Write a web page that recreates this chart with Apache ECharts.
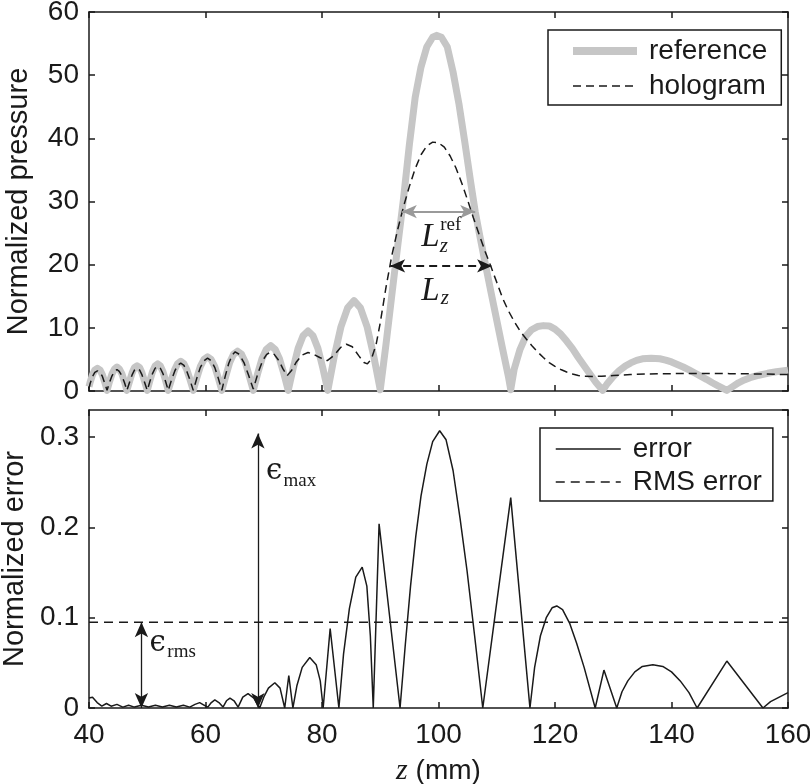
<!DOCTYPE html>
<html>
<head>
<meta charset="utf-8">
<script src="https://cdn.jsdelivr.net/npm/echarts@6/dist/echarts.min.js"></script>
<style>
html, body { margin: 0; padding: 0; background: #fff; }
#chart { width: 810px; height: 784px; }
</style>
</head>
<body>
<div id="chart"></div>
<script>
// axis ticks
const zTicks = [40, 60, 80, 100, 120, 140, 160]
const pressureTicks = [0, 10, 20, 30, 40, 50, 60]
const errorTicks = [0, 0.1, 0.2, 0.3]
const errorTop = 0.33

// normalized pressure along z, [z (mm), value]
const reference = [
  [40, 0.7], [40.2, 1.4], [40.6, 2.55], [41, 3.3], [41.45, 3.6], [41.9, 3.3], [42.3, 2.55], [42.7, 1.4], [43.1, 0.1],
  [43.5, 1.45], [43.95, 2.7], [44.4, 3.5], [44.8, 3.8], [45.2, 3.5], [45.65, 2.7], [46.1, 1.45], [46.5, 0.1],
  [46.95, 1.5], [47.4, 2.85], [47.8, 3.7], [48.25, 4.0], [48.7, 3.7], [49.1, 2.85], [49.55, 1.5], [50, 0.1],
  [50.45, 1.65], [50.9, 3.05], [51.35, 3.95], [51.8, 4.3], [52.25, 3.95], [52.7, 3.05], [53.15, 1.65], [53.6, 0.1],
  [54.15, 1.8], [54.7, 3.35], [55.2, 4.3], [55.75, 4.7], [56.3, 4.3], [56.8, 3.35], [57.35, 1.8], [57.9, 0.1],
  [58.5, 2.05], [59.1, 3.85], [59.75, 5.0], [60.35, 5.4], [60.95, 5.0], [61.6, 3.85], [62.2, 2.05], [62.8, 0.1],
  [63.5, 2.4], [64.15, 4.5], [64.8, 5.8], [65.5, 6.3], [66.2, 5.8], [66.85, 4.5], [67.5, 2.4], [68.2, 0.1],
  [68.95, 2.75], [69.7, 5.1], [70.45, 6.6], [71.2, 7.2], [71.95, 6.6], [72.7, 5.1], [73.45, 2.75], [74.2, 0.1],
  [75.05, 3.6], [75.9, 6.75], [76.75, 8.75], [77.6, 9.5], [78.45, 8.75], [79.3, 6.75], [80.15, 3.6], [81, 0.1],
  [82.1, 5.45], [83.25, 10.15], [84.4, 13.15], [85.5, 14.3], [86.6, 13.15], [87.75, 10.15], [88.9, 5.45], [90, 0.2],
  [91, 7.5], [92, 15.3], [93, 23], [94, 30.5], [95, 39], [96, 46.5], [97, 51.3], [98, 54.5], [99, 56], [99.7, 56.3],
  [100.5, 56], [101.5, 54.5], [102.5, 50.5], [103.5, 45.5], [104.5, 39.5], [105.5, 33.2], [106.3, 28.4], [107, 25],
  [108, 20.3], [109, 15.7], [110, 11.2], [111, 6.7], [112, 2.3], [112.4, 0.2],
  [113, 3.5], [114, 6.6], [115, 8.7], [116, 9.7], [117, 10.2], [118, 10.35], [119, 10.3], [120, 9.8], [121, 9.0],
  [122, 7.9], [123, 6.7], [124, 5.3], [125, 4.0], [126, 2.7], [127, 1.4], [128.2, 0.1],
  [129, 1.2], [130, 2.3], [131, 3.2], [132, 3.9], [133, 4.45], [134, 4.85], [135, 5.1], [136.5, 5.2], [138, 5.1],
  [139, 4.9], [140, 4.6], [141, 4.2], [142, 3.8], [143, 3.35], [144, 2.85], [145, 2.35], [146, 1.85], [147, 1.3],
  [148, 0.8], [149.5, 0.1],
  [150.5, 0.7], [151.5, 1.3], [152.5, 1.75], [153.5, 2.1], [155, 2.5], [156.5, 2.8], [158, 3.05], [160, 3.3]
]

const hologram = [
  [40, 0.4], [40.2, 1.2], [40.6, 2.3], [41, 2.95], [41.45, 3.2], [41.9, 2.95], [42.3, 2.3], [42.7, 1.2], [43.1, 0.1],
  [43.5, 1.3], [43.95, 2.4], [44.4, 3.1], [44.8, 3.4], [45.2, 3.1], [45.65, 2.4], [46.1, 1.3], [46.5, 0.1],
  [46.95, 1.35], [47.4, 2.55], [47.8, 3.3], [48.25, 3.6], [48.7, 3.3], [49.1, 2.55], [49.55, 1.35], [50, 0.1],
  [50.45, 1.5], [50.9, 2.75], [51.35, 3.6], [51.8, 3.9], [52.25, 3.6], [52.7, 2.75], [53.15, 1.5], [53.6, 0.1],
  [54.15, 1.7], [54.7, 3.1], [55.2, 4.05], [55.75, 4.4], [56.3, 4.05], [56.8, 3.1], [57.35, 1.7], [57.9, 0.1],
  [58.5, 2.0], [59.1, 3.7], [59.75, 4.8], [60.35, 5.2], [60.95, 4.8], [61.6, 3.7], [62.2, 2.0], [62.8, 0.1],
  [63.4, 2.4], [64, 4.4], [64.6, 5.7], [65.1, 6.2], [65.8, 5.8], [66.6, 4.5], [67.4, 2.5], [68.2, 0.3],
  [69, 2.8], [69.8, 4.8], [70.5, 5.8], [71.1, 6.1], [71.8, 5.8], [72.6, 4.8], [73.3, 3.5], [74, 2.4],
  [74.8, 3.3], [75.6, 4.6], [76.6, 5.7], [77.6, 6.1], [78.6, 5.8], [79.6, 5.3], [80.9, 4.8],
  [82, 5.6], [83.2, 6.9], [84.2, 7.4], [85.2, 7.0], [86.3, 5.6], [87.2, 4.5], [87.8, 4.3],
  [88.5, 5.1], [89.3, 7.4], [90, 10.8], [91, 16.5], [92, 21.5], [93, 25.6], [94, 29.2], [95, 32.4], [96, 35.2],
  [97, 37.4], [98, 38.8], [99, 39.4], [100, 39.3], [101, 38.6], [102, 37.2], [103, 35.3], [104, 32.9], [105, 30.2],
  [106, 27.4], [107, 24.7], [108, 22.1], [109, 19.7], [110, 17.2], [111, 14.7], [112, 12.7], [113, 11], [114, 9.5],
  [115, 8.3], [116, 7.2], [117, 6.2], [118, 5.3], [119, 4.5], [120, 3.9], [121, 3.4], [122, 3], [123, 2.7],
  [124, 2.45], [125, 2.35], [126.5, 2.3], [128, 2.35], [130, 2.45], [133, 2.6], [136, 2.7], [140, 2.75],
  [145, 2.78], [150, 2.75], [155, 2.7], [160, 2.6]
]

// normalized error along z
const error = [
  [40, 0.011], [40.6, 0.012], [41.4, 0.006], [42.2, 0.002], [43, 0.005], [43.8, 0.002], [44.8, 0.004], [45.8, 0.001],
  [46.8, 0.003], [47.8, 0.001], [49, 0.003], [50.2, 0.001], [51.4, 0.003], [52.6, 0.001], [53.8, 0.003], [55, 0.001],
  [56.2, 0.003], [57.3, 0.001], [58.2, 0.004], [59, 0.006], [59.8, 0.003], [60.4, 0.001], [61, 0.006], [61.6, 0.009],
  [62.3, 0.006], [63, 0.001], [63.6, 0.008], [64.2, 0.011], [64.9, 0.008], [65.6, 0.001], [66.4, 0.012], [67.3, 0.016],
  [68.3, 0.011], [69.3, 0],
  [70, 0.012], [70.8, 0.022], [71.9, 0.028], [72.8, 0.022], [73.6, 0], [74.3, 0.036], [75, 0],
  [75.7, 0.025], [76.6, 0.045], [77.9, 0.056], [79, 0.048], [79.7, 0.03], [80.2, 0], [81.4, 0.088], [82.9, 0],
  [83.7, 0.06], [84.7, 0.11], [85.8, 0.145], [86.9, 0.156], [87.7, 0.135], [88.3, 0.08], [88.8, 0], [89.8, 0.204],
  [93.4, 0], [94.3, 0.07], [95.2, 0.135], [96.1, 0.19], [97, 0.235], [98, 0.27], [99, 0.295], [100.2, 0.307],
  [101.3, 0.297], [102.5, 0.263], [103.7, 0.21], [104.9, 0.152], [106.2, 0.08], [107.6, 0],
  [110, 0.117], [112.4, 0.233], [115.7, 0],
  [116.5, 0.045], [117.5, 0.08], [118.5, 0.1], [119.5, 0.111], [120.3, 0.113], [121.3, 0.109], [122.5, 0.094],
  [123.7, 0.072], [125, 0.045], [126.9, 0], [128.4, 0.042], [130.6, 0],
  [131.5, 0.018], [132.5, 0.03], [133.7, 0.04], [135, 0.046], [136.8, 0.048], [138.5, 0.046], [140, 0.04],
  [141.5, 0.03], [143, 0.017], [144.4, 0], [149.5, 0.052], [155.7, 0], [157, 0.007], [158.5, 0.012], [160, 0.017]
]
const rmsError = 0.095

// widths and error bars: [from, to] in data units
const lzRef = [[93.7, 28.4], [106.3, 28.4]]
const lz = [[91.7, 19.8], [109.2, 19.8]]
const epsRms = [[49, 0], [49, rmsError]]
const epsMax = [[69, 0], [69, 0.304]]

const ink = '#1a1a1a'
const sans = '"Liberation Sans", Arial, sans-serif'
const serif = '"Liberation Serif", "DejaVu Serif", serif'
const mathSerif = '"DejaVu Serif", "Liberation Serif", serif'

const frame = { show: true, onZero: false, lineStyle: { color: ink, width: 1.5 } }
const ticks = { show: true, inside: true, length: 6, lineStyle: { color: ink, width: 1.5 } }

function zAxis (gridIndex, position, labels) {
  const axis = {
    type: 'value',
    gridIndex,
    position,
    min: zTicks[0],
    max: zTicks[zTicks.length - 1],
    interval: zTicks[1] - zTicks[0],
    axisLine: frame,
    axisTick: ticks,
    splitLine: { show: false },
    axisLabel: { show: labels, fontSize: 28, color: ink, margin: 13 }
  }
  if (labels) {
    axis.name = '{i|z} (mm)'
    axis.nameLocation = 'middle'
    axis.nameGap = 48
    axis.nameTextStyle = {
      fontSize: 28,
      color: ink,
      rich: { i: { fontFamily: serif, fontStyle: 'italic', fontSize: 30, color: ink } }
    }
  }
  return axis
}

function valueAxis (gridIndex, position, min, max, interval, name) {
  return {
    type: 'value',
    gridIndex,
    position,
    min,
    max,
    interval,
    axisLine: frame,
    axisTick: ticks,
    splitLine: { show: false },
    axisLabel: { show: !!name, fontSize: 28, color: ink, margin: 10, showMaxLabel: max === pressureTicks[pressureTicks.length - 1] },
    name: name || '',
    nameLocation: 'middle',
    nameGap: 56,
    nameTextStyle: { fontSize: 29, color: ink }
  }
}

function note (text, coord, style) {
  return {
    coord,
    label: Object.assign({ show: true, position: 'inside', formatter: text, color: ink, fontFamily: serif }, style)
  }
}

function arrow (points, lineStyle) {
  return {
    silent: true,
    animation: false,
    symbol: ['arrow', 'arrow'],
    symbolSize: [10, 15],
    label: { show: false },
    emphasis: { disabled: true },
    lineStyle: Object.assign({ width: 1.5 }, lineStyle),
    data: [[{ coord: points[0] }, { coord: points[1] }]]
  }
}

const italicBig = { fontStyle: 'italic', fontSize: 33 }
const italicSub = { fontStyle: 'italic', fontSize: 21 }
const upSmall = { fontSize: 19 }
const epsilon = { fontFamily: mathSerif, fontSize: 29 }

const chart = echarts.init(document.getElementById('chart'))
chart.setOption({
  animation: false,
  textStyle: { fontFamily: sans },
  grid: [
    { left: 89, right: 22, top: 12, height: 379, outerBoundsMode: 'none' },
    { left: 89, right: 22, top: 410, height: 298, outerBoundsMode: 'none' }
  ],
  xAxis: [
    zAxis(0, 'bottom', false),
    zAxis(0, 'top', false),
    zAxis(1, 'bottom', true),
    zAxis(1, 'top', false)
  ],
  yAxis: [
    valueAxis(0, 'left', pressureTicks[0], pressureTicks[pressureTicks.length - 1], pressureTicks[1] - pressureTicks[0], 'Normalized pressure'),
    valueAxis(0, 'right', pressureTicks[0], pressureTicks[pressureTicks.length - 1], pressureTicks[1] - pressureTicks[0]),
    valueAxis(1, 'left', errorTicks[0], errorTop, errorTicks[1] - errorTicks[0], 'Normalized error'),
    valueAxis(1, 'right', errorTicks[0], errorTop, errorTicks[1] - errorTicks[0])
  ],
  legend: [
    {
      orient: 'vertical',
      left: 548,
      top: 30,
      selectedMode: false,
      itemWidth: 64,
      itemHeight: 30,
      itemGap: 7,
      padding: [7, 14, 5, 21],
      borderColor: ink,
      borderWidth: 1.5,
      borderRadius: 0,
      itemStyle: { opacity: 0 },
      textStyle: { fontSize: 28, color: ink, padding: [0, 0, 0, 7] },
      data: [
        { name: 'reference', lineStyle: { width: 8 } },
        { name: 'hologram', lineStyle: { width: 1.5 } }
      ]
    },
    {
      orient: 'vertical',
      left: 540,
      top: 428,
      selectedMode: false,
      itemWidth: 65,
      itemHeight: 30,
      itemGap: 5,
      padding: [7, 11, 5, 15],
      borderColor: ink,
      borderWidth: 1.5,
      borderRadius: 0,
      itemStyle: { opacity: 0 },
      textStyle: { fontSize: 28, color: ink, padding: [0, 0, 0, 7] },
      data: [
        { name: 'error', lineStyle: { width: 1.5 } },
        { name: 'RMS error', lineStyle: { width: 1.5 } }
      ]
    }
  ],
  series: [
    {
      name: 'reference',
      type: 'line',
      xAxisIndex: 0,
      yAxisIndex: 0,
      data: reference,
      symbol: 'none',
      lineStyle: { color: '#c6c6c6', width: 7, join: 'round' },
      itemStyle: { color: '#c6c6c6' },
      markLine: arrow(lzRef, { color: '#9a9a9a', width: 2, type: 'solid' }),
      markPoint: {
        symbol: 'circle',
        symbolSize: 0,
        silent: true,
        data: [
          note('L', [98.6, 24.4], italicBig),
          note('ref', [102.1, 26.2], upSmall),
          note('z', [100.9, 22.9], italicSub),
          note('L', [98.6, 15.8], italicBig),
          note('z', [101.1, 14.7], italicSub)
        ]
      }
    },
    {
      name: 'hologram',
      type: 'line',
      xAxisIndex: 0,
      yAxisIndex: 0,
      data: hologram,
      symbol: 'none',
      lineStyle: { color: ink, width: 1.5, type: [8, 5] },
      itemStyle: { color: ink },
      markLine: arrow(lz, { color: ink, width: 1.8, type: [8, 5] })
    },
    {
      name: 'error',
      type: 'line',
      xAxisIndex: 2,
      yAxisIndex: 2,
      data: error,
      symbol: 'none',
      lineStyle: { color: ink, width: 1.5 },
      itemStyle: { color: ink },
      markLine: arrow(epsMax, { color: ink, width: 1.3, type: 'solid' }),
      markPoint: {
        symbol: 'circle',
        symbolSize: 0,
        silent: true,
        data: [
          note('\u03f5', [71.8, 0.262], epsilon),
          note('max', [76.2, 0.251], upSmall),
          note('\u03f5', [51.8, 0.072], epsilon),
          note('rms', [55.9, 0.062], upSmall)
        ]
      }
    },
    {
      name: 'RMS error',
      type: 'line',
      xAxisIndex: 2,
      yAxisIndex: 2,
      data: [[zTicks[0], rmsError], [zTicks[zTicks.length - 1], rmsError]],
      symbol: 'none',
      lineStyle: { color: ink, width: 1.5, type: [9, 6] },
      itemStyle: { color: ink },
      markLine: arrow(epsRms, { color: ink, width: 1.3, type: 'solid' })
    }
  ]
})
</script>
</body>
</html>
